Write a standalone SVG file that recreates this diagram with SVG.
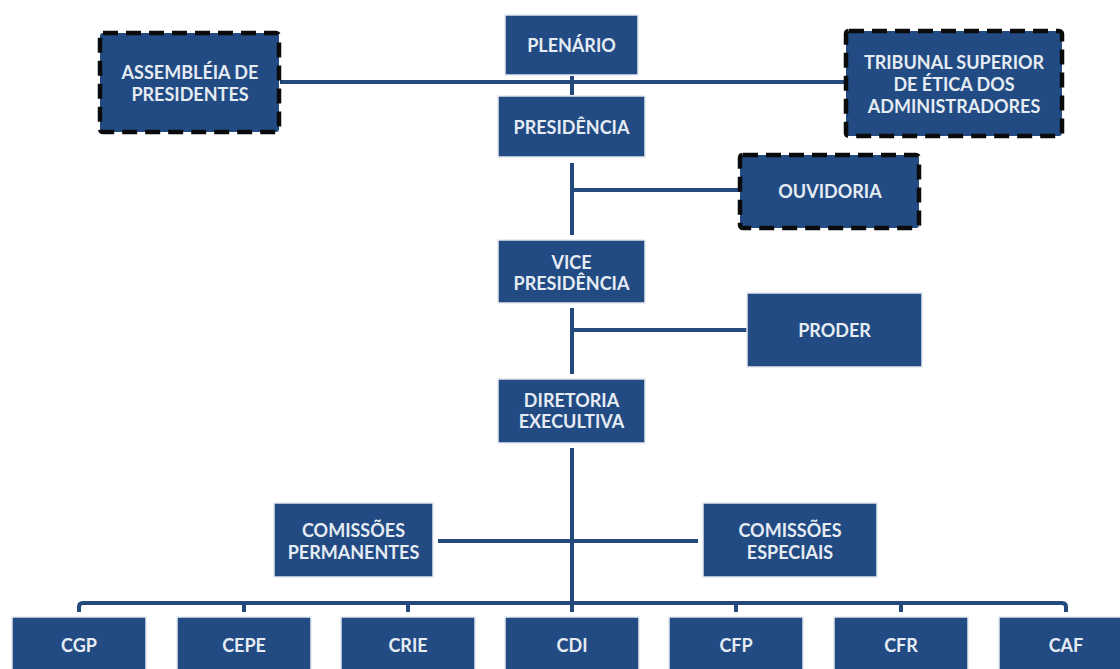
<svg xmlns="http://www.w3.org/2000/svg" width="1120" height="669" viewBox="0 0 1120 669">
<style>
.box{fill:#214B82;stroke:#E3E8EF;stroke-width:1.5}
.dash{fill:#214B82;stroke:#0B0B0B;stroke-width:4.5;stroke-dasharray:15 8}
.t{font-family:Lato,"Open Sans","Liberation Sans",sans-serif;font-weight:bold;font-size:18px;fill:#E6ECF4;text-anchor:middle;dominant-baseline:central}
.ln{stroke:#23497D;stroke-width:4;fill:none}
</style>
<rect width="1120" height="669" fill="#FFFFFF"/>
<g id="connectors">
<line class="ln" x1="280" y1="82" x2="846" y2="82"/>
<line class="ln" x1="572" y1="76" x2="572" y2="95"/>
<line class="ln" x1="572" y1="163" x2="572" y2="235"/>
<line class="ln" x1="570" y1="190" x2="740" y2="190"/>
<line class="ln" x1="572" y1="308" x2="572" y2="374"/>
<line class="ln" x1="570" y1="330" x2="747" y2="330"/>
<line class="ln" x1="572" y1="448" x2="572" y2="612"/>
<line class="ln" x1="438" y1="541" x2="698" y2="541"/>
<path class="ln" d="M79,612 V607 Q79,603 83,603 H1062 Q1066,603 1066,607 V612"/>
<line class="ln" x1="244" y1="603" x2="244" y2="612"/>
<line class="ln" x1="408" y1="603" x2="408" y2="612"/>
<line class="ln" x1="736" y1="603" x2="736" y2="612"/>
<line class="ln" x1="901" y1="603" x2="901" y2="612"/>
</g>
<g id="plenario"><rect class="box" x="505" y="15" width="133" height="60"/><text class="t" x="571.5" y="45">PLENÁRIO</text></g>
<g id="presidencia"><rect class="box" x="498" y="96" width="147" height="61"/><text class="t" x="571.5" y="126.5">PRESIDÊNCIA</text></g>
<g id="assembleia"><rect class="dash" x="100" y="33" width="179" height="99" rx="3"/><text class="t" x="190" y="72">ASSEMBLÉIA DE</text><text class="t" x="190" y="94">PRESIDENTES</text></g>
<g id="tribunal"><rect class="dash" x="846" y="31" width="216" height="105" rx="3"/><text class="t" x="954" y="62">TRIBUNAL SUPERIOR</text><text class="t" x="954" y="84">DE ÉTICA DOS</text><text class="t" x="954" y="106">ADMINISTRADORES</text></g>
<g id="ouvidoria"><rect class="dash" x="740" y="155" width="179" height="73" rx="3"/><text class="t" x="830" y="191">OUVIDORIA</text></g>
<g id="vice"><rect class="box" x="498" y="240" width="147" height="63"/><text class="t" x="571.5" y="262">VICE</text><text class="t" x="571.5" y="283">PRESIDÊNCIA</text></g>
<g id="proder"><rect class="box" x="747" y="293" width="175" height="74"/><text class="t" x="834.5" y="330">PRODER</text></g>
<g id="diretoria"><rect class="box" x="498" y="379" width="147" height="64"/><text class="t" x="571.5" y="400">DIRETORIA</text><text class="t" x="571.5" y="421">EXECULTIVA</text></g>
<g id="comissoes-permanentes"><rect class="box" x="274" y="503" width="159" height="74"/><text class="t" x="353.5" y="530">COMISSÕES</text><text class="t" x="353.5" y="552">PERMANENTES</text></g>
<g id="comissoes-especiais"><rect class="box" x="703" y="503" width="174" height="74"/><text class="t" x="790" y="530">COMISSÕES</text><text class="t" x="790" y="552">ESPECIAIS</text></g>
<g id="cgp"><rect class="box" x="12" y="617" width="134" height="60"/><text class="t" x="79" y="645">CGP</text></g>
<g id="cepe"><rect class="box" x="177" y="617" width="134" height="60"/><text class="t" x="244" y="645">CEPE</text></g>
<g id="crie"><rect class="box" x="341" y="617" width="134" height="60"/><text class="t" x="408" y="645">CRIE</text></g>
<g id="cdi"><rect class="box" x="505" y="617" width="134" height="60"/><text class="t" x="572" y="645">CDI</text></g>
<g id="cfp"><rect class="box" x="669" y="617" width="134" height="60"/><text class="t" x="736" y="645">CFP</text></g>
<g id="cfr"><rect class="box" x="834" y="617" width="134" height="60"/><text class="t" x="901" y="645">CFR</text></g>
<g id="caf"><rect class="box" x="999" y="617" width="134" height="60"/><text class="t" x="1066" y="645">CAF</text></g>
</svg>
